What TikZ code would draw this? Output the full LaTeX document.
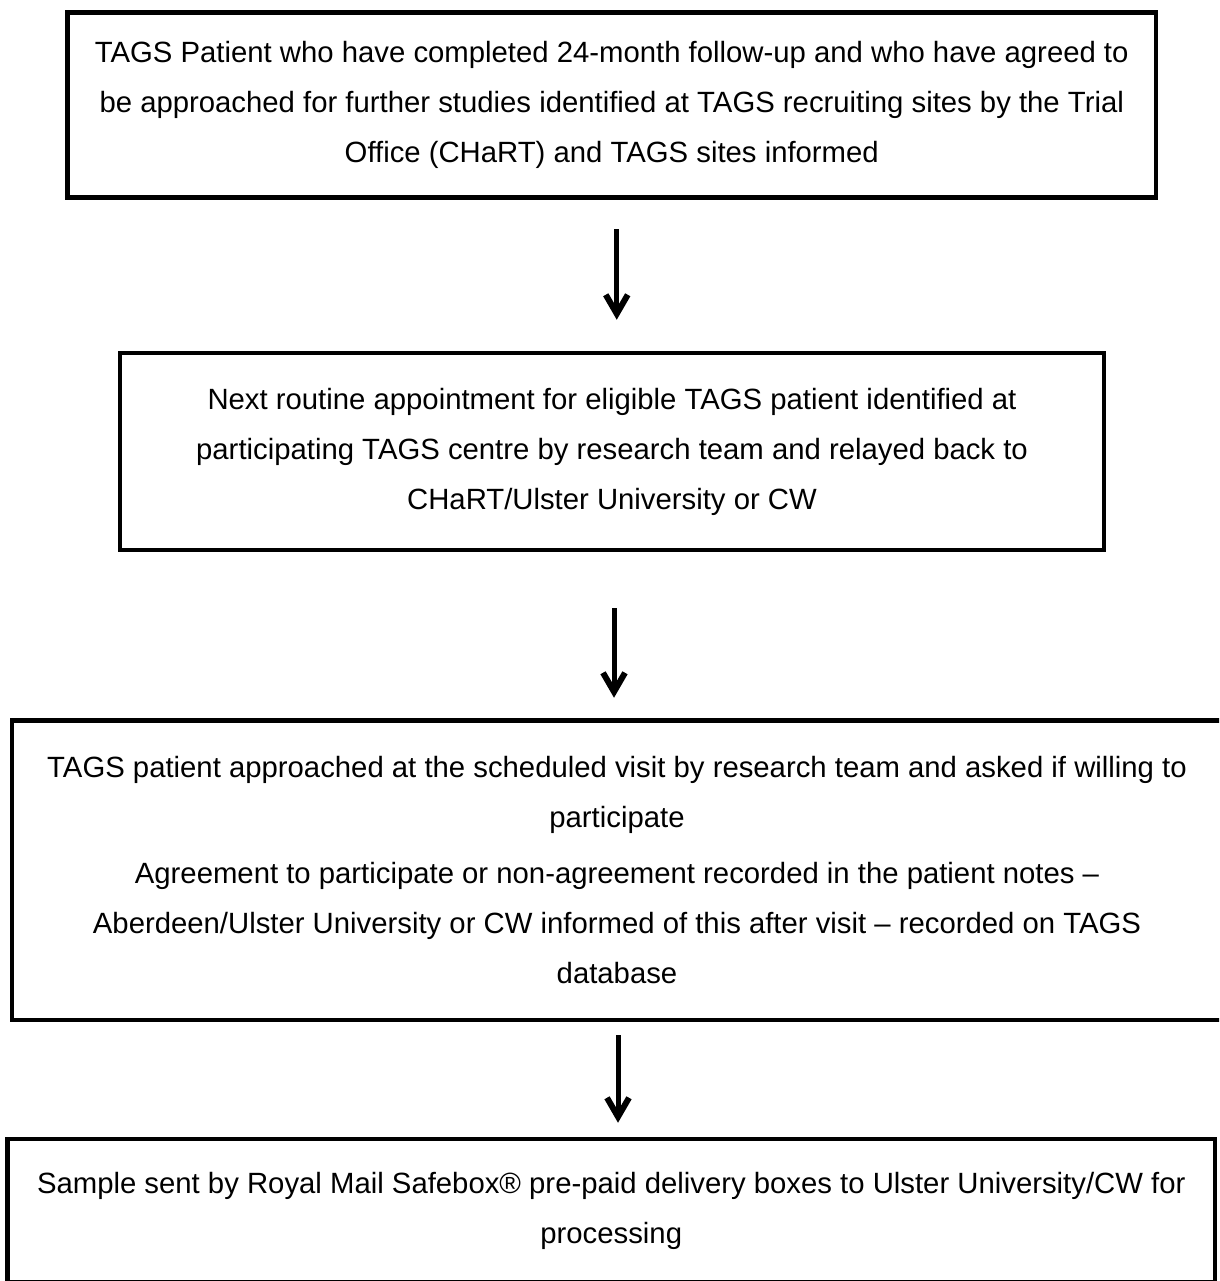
\documentclass[tikz,border=0pt]{standalone}
\usepackage{fontspec}
\setmainfont{Liberation Sans}
\usetikzlibrary{arrows.meta}

\tikzset{
  flowbox/.style={draw=black, line width=4.5pt, fill=white, inner sep=0pt,
    align=center, font=\fontsize{29.3pt}{50pt}\selectfont},
  flowarrow/.style={line width=5pt, -{Straight Barb[length=19pt, width=22pt, line width=6pt]}},
}

\begin{document}
\begin{tikzpicture}[x=1pt, y=-1pt]

  \useasboundingbox (0,0) rectangle (1219,1281);
  \clip (0,0) rectangle (1219,1281);

  \node[flowbox, minimum width=1088.5pt, minimum height=185pt] (patients) at (611.75,105)
    {TAGS Patient who have completed 24-month follow-up and who have agreed to\\
     be approached for further studies identified at TAGS recruiting sites by the Trial\\
     Office (CHaRT) and TAGS sites informed};

  \node[flowbox, minimum width=984pt, minimum height=197pt] (appointment) at (612,451.5)
    {Next routine appointment for eligible TAGS patient identified at\\
     participating TAGS centre by research team and relayed back to\\
     CHaRT/Ulster University or CW};

  \node[flowbox, minimum width=1210pt, minimum height=299.5pt] (approach) at (617,870.25)
    {TAGS patient approached at the scheduled visit by research team and asked if willing to\\
     participate\\[6pt]
     Agreement to participate or non-agreement recorded in the patient notes --\\
     Aberdeen/Ulster University or CW informed of this after visit -- recorded on TAGS\\
     database};

  \node[flowbox, minimum width=1207.5pt, minimum height=143pt] (sample) at (611.25,1210.5)
    {Sample sent by Royal Mail Safebox® pre-paid delivery boxes to Ulster University/CW for\\
     processing};

  \draw[flowarrow, shorten <=29.5pt, shorten >=31pt]
    ([xshift=5pt]patients.south) -- ([xshift=5pt]patients.south |- appointment.north); %% 1->2
  \draw[flowarrow, shorten <=56pt, shorten >=20.5pt]
    ([xshift=2pt]appointment.south) -- ([xshift=2pt]appointment.south |- approach.north); %% 2->3
  \draw[flowarrow, shorten <=13pt, shorten >=14pt]
    ([xshift=1pt]approach.south) -- ([xshift=1pt]approach.south |- sample.north); %% 3->4

\end{tikzpicture}
\end{document}
